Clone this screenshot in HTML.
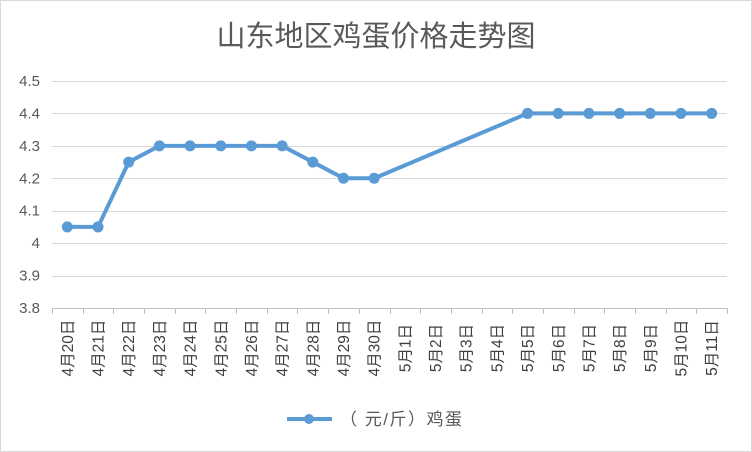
<!DOCTYPE html>
<html><head><meta charset="utf-8"><style>
body{margin:0;background:#fff}
svg{display:block;font-family:"Liberation Sans","Noto Sans CJK SC",sans-serif}
</style></head><body>
<svg id="c" width="752" height="452">
<rect x="0.5" y="0.5" width="751" height="451" fill="#fff" stroke="#d9d9d9"/>
<text x="376" y="46" text-anchor="middle" font-size="29" fill="#595959">山东地区鸡蛋价格走势图</text>
<g id="grid"></g><g id="yt"></g><g id="xt"></g><g id="series"></g>
<g>
<line x1="287" y1="419" x2="332" y2="419" stroke="#5b9bd5" stroke-width="4"/>
<circle cx="309" cy="419" r="5" fill="#5b9bd5"/>
<text x="340" y="425" font-size="17" letter-spacing="1.5" fill="#595959">（ 元/斤）鸡蛋</text>
</g>
</svg>
<script>
const categories=["4月20日","4月21日","4月22日","4月23日","4月24日","4月25日","4月26日","4月27日","4月28日","4月29日","4月30日","5月1日","5月2日","5月3日","5月4日","5月5日","5月6日","5月7日","5月8日","5月9日","5月10日","5月11日"];
const values=[4.05,4.05,4.25,4.3,4.3,4.3,4.3,4.3,4.25,4.2,4.2,null,null,null,null,4.4,4.4,4.4,4.4,4.4,4.4,4.4];
const yTicks=[3.8,3.9,4,4.1,4.2,4.3,4.4,4.5];
const yLabels=["3.8","3.9","4","4.1","4.2","4.3","4.4","4.5"];
const NS="http://www.w3.org/2000/svg";
const L=52,R=727,T=81,B=308,ymin=3.8,ymax=4.5;
const bw=(R-L)/categories.length;
const xs=i=>L+bw*(i+0.5);
const ys=v=>B-(v-ymin)/(ymax-ymin)*(B-T);
function mk(t,a,p){const e=document.createElementNS(NS,t);for(const k in a)e.setAttribute(k,a[k]);p.appendChild(e);return e;}
const grid=document.getElementById('grid'),yt=document.getElementById('yt'),xt=document.getElementById('xt'),ser=document.getElementById('series');
yTicks.forEach((v,i)=>{
 const y=Math.round(ys(v))+0.5;
 const g=mk('line',{x1:L,x2:R,y1:y,y2:y,stroke:i==0?'#bfbfbf':'#d9d9d9','stroke-width':1},grid);
 
 
 const t=mk('text',{x:L-12,y:ys(v)+5,'text-anchor':'end','font-size':15,fill:'#595959'},yt);
 t.textContent=yLabels[i];
 
 
});
for(let i=0;i<=categories.length;i++){
 const x=Math.round(L+bw*i)+0.5;
 const tk=mk('line',{x1:x,x2:x,y1:B,y2:B+6,stroke:'#bfbfbf'},xt);
 
 
}
categories.forEach((c,i)=>{
 const x=xs(i)+5.5;
 const t=mk('text',{x:0,y:0,'text-anchor':'middle','font-size':15.5,fill:'#404040',transform:`translate(${x},348) rotate(-90)`},xt);
 t.textContent=c;
 
 
});
const pts=[];values.forEach((v,i)=>{if(v!=null)pts.push([xs(i),ys(v)]);});
const pl=mk('polyline',{points:pts.map(p=>p.join(',')).join(' '),fill:'none',stroke:'#5b9bd5','stroke-width':4,'stroke-linejoin':'round'},ser);


pts.forEach(p=>{
 const c=mk('circle',{cx:p[0],cy:p[1],r:5.5,fill:'#5b9bd5'},ser);
 
 
});
</script>
</body></html>
